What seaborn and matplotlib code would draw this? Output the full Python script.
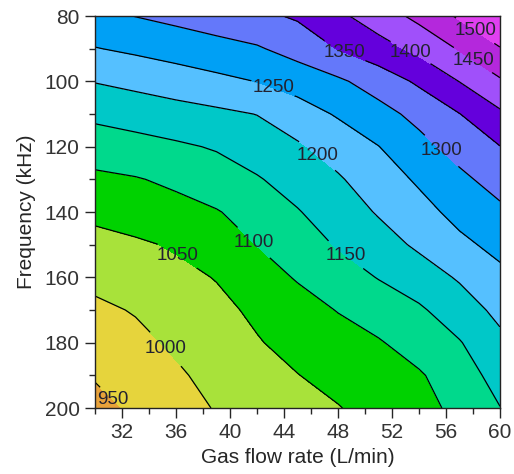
import numpy as np
import matplotlib
matplotlib.use("Agg")
import matplotlib.pyplot as plt
from matplotlib.ticker import MultipleLocator
import seaborn as sns

# grid (gas flow in L/min, frequency in kHz)
gas_flow = [30, 33, 36, 39, 42, 45, 48, 51, 54, 57, 60]
frequency = [80, 90, 100, 110, 120, 130, 140, 150, 160, 170, 180, 190, 200]

# one row of values per frequency
z_80 = [1288, 1301, 1313, 1326, 1339, 1356, 1390, 1425, 1463, 1507, 1540]
z_90 = [1248, 1259, 1271, 1283, 1295, 1319, 1352, 1381, 1413, 1454, 1498]
z_100 = [1202, 1213, 1225, 1238, 1251, 1271, 1292, 1322, 1358, 1401, 1444]
z_110 = [1161, 1171, 1181, 1190, 1201, 1227, 1255, 1283, 1314, 1349, 1392]
z_120 = [1124, 1133, 1143, 1154, 1174, 1194, 1220, 1249, 1285, 1319, 1349]
z_130 = [1090, 1097, 1109, 1128, 1146, 1170, 1195, 1225, 1257, 1289, 1320]
z_140 = [1061, 1073, 1085, 1097, 1120, 1147, 1175, 1204, 1233, 1265, 1290]
z_150 = [1035, 1043, 1055, 1078, 1101, 1127, 1154, 1180, 1208, 1239, 1264]
z_160 = [1012, 1025, 1038, 1052, 1078, 1104, 1128, 1152, 1177, 1205, 1238]
z_170 = [991, 1003, 1021, 1039, 1058, 1080, 1102, 1123, 1143, 1177, 1212]
z_180 = [973, 989, 1007, 1027, 1047, 1064, 1080, 1096, 1121, 1147, 1189]
z_190 = [954, 974, 994, 1013, 1031, 1049, 1064, 1079, 1095, 1126, 1169]
z_200 = [935, 958, 981, 1003, 1018, 1033, 1048, 1066, 1078, 1117, 1149]

levels = [900, 950, 1000, 1050, 1100, 1150, 1200, 1250, 1300,
          1350, 1400, 1450, 1500, 1550]
level_colors = ['#E8A23A', '#E6D43C', '#A8E23A', '#00D200', '#00D98C',
                '#00C8C8', '#55C0FF', '#00A0F5', '#6478FA', '#6400DC',
                '#A050FA', '#B428DC', '#E040F0']
label_pos = [(31.8, 195.4), (35.5, 181.0), (35.8, 155.3), (41.8, 149.2),
             (48.5, 153.5), (46.7, 121.6), (43.2, 102.0), (55.6, 121.6),
             (48.4, 91.6), (53.4, 91.0), (57.9, 94.1), (58.0, 85.5)]

z = np.array([z_80, z_90, z_100, z_110, z_120, z_130, z_140,
              z_150, z_160, z_170, z_180, z_190, z_200])

sns.set_style('ticks')
plt.rcParams['font.family'] = ['Liberation Sans', 'DejaVu Sans']

fig = plt.figure(figsize=(5.14, 4.74), dpi=100)
ax = fig.add_axes([0.1848, 0.1392, 0.788, 0.827])

ax.contourf(gas_flow, frequency, z, levels=levels, colors=level_colors)
cs = ax.contour(gas_flow, frequency, z, levels=levels[1:-1],
                colors='black', linewidths=0.9)
labels = ax.clabel(cs, fmt='%d', fontsize=13.5, manual=label_pos, inline=True,
                   inline_spacing=2, colors='#222230')
# labels in the original sit level, not along the line
for t in labels:
    t.set_rotation(0)

ax.set_xlim(30, 60)
ax.set_ylim(200, 80)
ax.set_xticks(range(32, 61, 4))
ax.xaxis.set_minor_locator(MultipleLocator(2))
ax.set_yticks(range(80, 201, 20))
ax.yaxis.set_minor_locator(MultipleLocator(10))
ax.tick_params(which='major', direction='out', length=7, width=1,
               labelsize=15, labelcolor='#333333', pad=4)
ax.tick_params(which='minor', direction='out', length=4, width=1)

for sp in ax.spines.values():
    sp.set_color('#222222')
    sp.set_linewidth(1)

ax.set_xlabel('Gas flow rate (L/min)', fontsize=15, labelpad=4)
ax.set_ylabel('Frequency (kHz)', fontsize=15, labelpad=6)

fig.savefig('out.png', dpi=100)
plt.close(fig)
